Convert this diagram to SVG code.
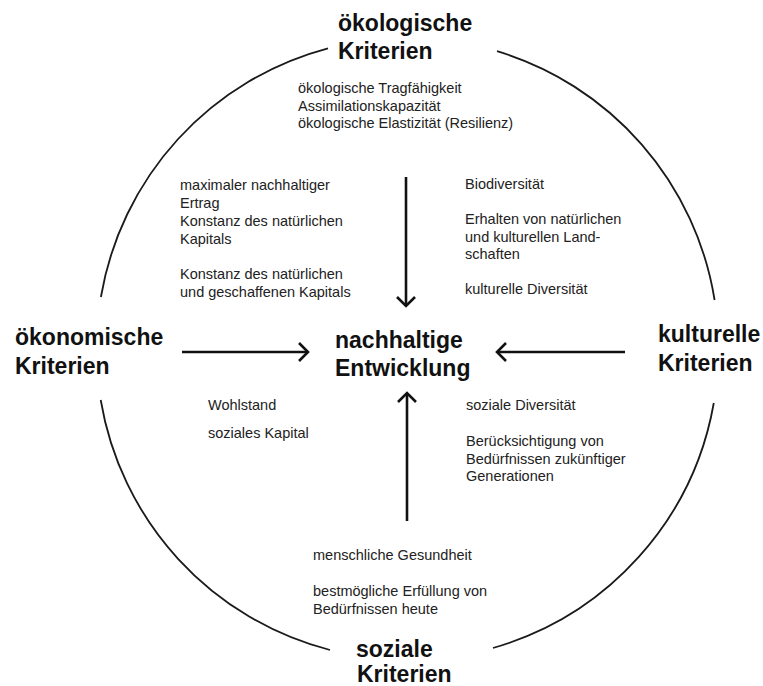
<svg xmlns="http://www.w3.org/2000/svg" width="763" height="686" viewBox="0 0 763 686">
  <style>
    .title { font-family: "Liberation Sans", Arial, sans-serif; font-weight: bold; font-size: 23px; fill: #111; }
    .small { font-family: "Liberation Sans", Arial, sans-serif; font-size: 14.5px; fill: #222; }
    .ring { fill: none; stroke: #1a1a1a; stroke-width: 1.8; }
    .arrow { fill: none; stroke: #111; stroke-width: 2.6; marker-end: url(#chevron); }
  </style>
  <defs>
    <marker id="chevron" markerUnits="userSpaceOnUse" markerWidth="24" markerHeight="24" viewBox="-12 -12 24 24" refX="0" refY="0" orient="auto">
      <path d="M-9,-9 L0,0 L-9,9" fill="none" stroke="#111" stroke-width="2.6" stroke-linejoin="miter"/>
    </marker>
  </defs>
  <rect width="763" height="686" fill="#ffffff"/>

  <!-- ring segments between the four criteria labels (centre 407.5,349 r 311) -->
  <g id="ring">
    <path class="ring" d="M497,51.2 A311,311 0 0 1 714.6,300"/>
    <path class="ring" d="M713.8,403 A311,311 0 0 1 493,648"/>
    <path class="ring" d="M330,650 A311,311 0 0 1 100.7,400"/>
    <path class="ring" d="M100.9,297 A311,311 0 0 1 328,48.3"/>
  </g>

  <!-- connectors: each criterion points to the centre -->
  <g id="connectors">
    <line class="arrow" x1="406" y1="177" x2="406" y2="306"/>
    <line class="arrow" x1="407" y1="521" x2="407" y2="393"/>
    <line class="arrow" x1="182" y1="352" x2="308" y2="352"/>
    <line class="arrow" x1="625" y1="352" x2="497" y2="352"/>
  </g>

  <g id="center">
    <text class="title" x="335" y="348">nachhaltige</text>
    <text class="title" x="335" y="376">Entwicklung</text>
  </g>

  <g id="oekologisch">
    <text class="title" x="338" y="31">ökologische</text>
    <text class="title" x="338" y="59">Kriterien</text>
    <text class="small" x="298" y="93">ökologische Tragfähigkeit</text>
    <text class="small" x="298" y="110.5">Assimilationskapazität</text>
    <text class="small" x="298" y="128">ökologische Elastizität (Resilienz)</text>
  </g>

  <g id="oekonomisch">
    <text class="title" x="15" y="345">ökonomische</text>
    <text class="title" x="15" y="374">Kriterien</text>
  </g>

  <g id="kulturell">
    <text class="title" x="658" y="342">kulturelle</text>
    <text class="title" x="658" y="371">Kriterien</text>
  </g>

  <g id="sozial">
    <text class="title" x="356" y="657">soziale</text>
    <text class="title" x="357" y="682">Kriterien</text>
    <text class="small" x="313" y="560">menschliche Gesundheit</text>
    <text class="small" x="313" y="596">bestmögliche Erfüllung von</text>
    <text class="small" x="313" y="613.5">Bedürfnissen heute</text>
  </g>

  <g id="oekol-oekon">
    <text class="small" x="180" y="190">maximaler nachhaltiger</text>
    <text class="small" x="180" y="208">Ertrag</text>
    <text class="small" x="180" y="226">Konstanz des natürlichen</text>
    <text class="small" x="180" y="244">Kapitals</text>
    <text class="small" x="180" y="279">Konstanz des natürlichen</text>
    <text class="small" x="180" y="297">und geschaffenen Kapitals</text>
  </g>

  <g id="oekol-kult">
    <text class="small" x="465" y="189">Biodiversität</text>
    <text class="small" x="465" y="224">Erhalten von natürlichen</text>
    <text class="small" x="465" y="241.5">und kulturellen Land-</text>
    <text class="small" x="465" y="259">schaften</text>
    <text class="small" x="465" y="294">kulturelle Diversität</text>
  </g>

  <g id="oekon-soz">
    <text class="small" x="208" y="410">Wohlstand</text>
    <text class="small" x="208" y="438">soziales Kapital</text>
  </g>

  <g id="kult-soz">
    <text class="small" x="466" y="410">soziale Diversität</text>
    <text class="small" x="466" y="446">Berücksichtigung von</text>
    <text class="small" x="466" y="463.5">Bedürfnissen zukünftiger</text>
    <text class="small" x="466" y="481">Generationen</text>
  </g>
</svg>
